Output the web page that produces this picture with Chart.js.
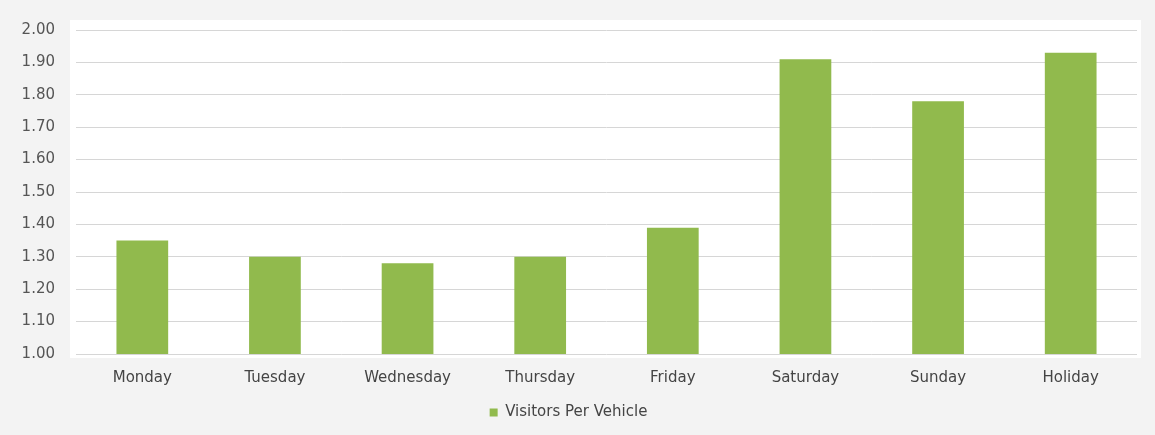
<!DOCTYPE html>
<html>
<head>
<meta charset="utf-8">
<script src="https://cdn.jsdelivr.net/npm/chart.js@4"></script>
<style>
  body { margin: 0; background: #f3f3f3; }
  #wrap { width: 1155px; height: 435px; }
</style>
</head>
<body>
<div id="wrap"><canvas id="vpv"></canvas></div>
<script>
const days = ['Monday', 'Tuesday', 'Wednesday', 'Thursday', 'Friday', 'Saturday', 'Sunday', 'Holiday'];
const visitorsPerVehicle = [1.35, 1.30, 1.28, 1.30, 1.39, 1.91, 1.78, 1.93];
const yTicks = [1.00, 1.10, 1.20, 1.30, 1.40, 1.50, 1.60, 1.70, 1.80, 1.90, 2.00];

// white panel behind the plot, the rest stays light grey
const plotPanel = {
    id: 'plotPanel',
    beforeDraw(chart) {
        const { ctx, chartArea: a } = chart;
        ctx.save();
        ctx.fillStyle = '#ffffff';
        ctx.fillRect(a.left - 6, a.top - 10, a.right - a.left + 10, a.bottom - a.top + 14);
        ctx.restore();
    }
};

const txtFont = { family: 'DejaVu Sans', size: 15 };

new Chart(document.getElementById('vpv'), {
    type: 'bar',
    data: {
        labels: days,
        datasets: [{
            label: 'Visitors Per Vehicle',
            data: visitorsPerVehicle,
            backgroundColor: '#91ba4d',
            categoryPercentage: 1,
            barPercentage: 0.39
        }]
    },
    options: {
        responsive: true, maintainAspectRatio: false, animation: false,
        layout: { padding: { left: 0, right: 18, top: 15, bottom: 5 } },
        scales: {
            x: {
                grid: { display: false },
                border: { display: false },
                ticks: { color: '#444', font: txtFont, padding: 7 }
            },
            y: {
                min: 1, max: 2,
                afterBuildTicks: axis => { axis.ticks = yTicks.map(v => ({ value: v })); },
                afterFit: axis => { axis.width = 76; },
                grid: { color: '#d6d6d6', drawTicks: false },
                border: { display: false },
                ticks: {
                    color: '#555', font: txtFont, padding: 21,
                    callback: v => Number(v).toFixed(2)
                }
            }
        },
        plugins: {
            legend: {
                position: 'bottom',
                labels: { boxWidth: 8, boxHeight: 8, padding: 11, color: '#444', font: txtFont }
            },
            tooltip: { enabled: false }
        }
    },
    plugins: [plotPanel]
});
</script>
</body>
</html>
